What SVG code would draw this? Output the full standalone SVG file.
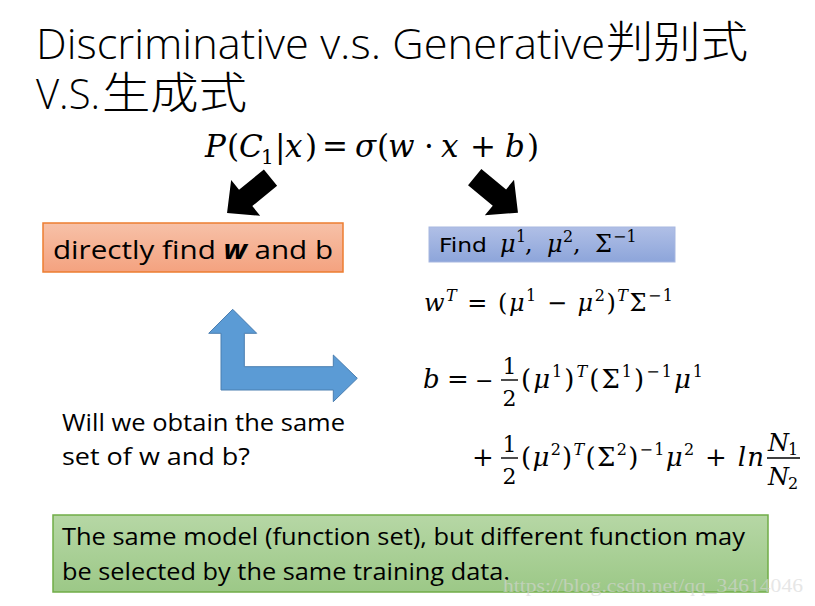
<svg xmlns="http://www.w3.org/2000/svg" width="815" height="606" viewBox="0 0 815 606">
<defs>
<linearGradient id="gOrange" x1="0" y1="0" x2="0" y2="1"><stop offset="0" stop-color="#F7C1A8"/><stop offset="1" stop-color="#F4A27F"/></linearGradient>
<linearGradient id="gBlue" x1="0" y1="0" x2="0" y2="1"><stop offset="0" stop-color="#B0BFE6"/><stop offset="1" stop-color="#8DA5DA"/></linearGradient>
<linearGradient id="gGreen" x1="0" y1="0" x2="0" y2="1"><stop offset="0" stop-color="#B6D7A5"/><stop offset="1" stop-color="#9CC887"/></linearGradient>
<polygon id="blk" points="0,-10.5 32,-10.5 32,-23 56,0 32,23 32,10.5 0,10.5"/>
</defs>
<style>
.sans{font-family:"Open Sans","Noto Sans","Liberation Sans",sans-serif;fill:#000}
.cjk{font-family:"Noto Sans CJK SC","Noto Sans CJK JP",sans-serif;fill:#000}
.m{font-family:"DejaVu Serif","Liberation Serif",serif;fill:#000}
.i{font-style:italic}
.s{font-size:16px}
.bar{stroke:#000;stroke-width:1.4}
</style>
<rect width="815" height="606" fill="#fff"/>
<g id="title">
<text class="sans" x="36" y="59" font-size="42" font-weight="300" textLength="569" lengthAdjust="spacingAndGlyphs">Discriminative v.s. Generative</text>
<text class="cjk" x="606" y="58" font-size="44" font-weight="300" textLength="142" lengthAdjust="spacingAndGlyphs">判别式</text>
<text class="sans" x="36" y="109" font-size="42" font-weight="300" textLength="64" lengthAdjust="spacingAndGlyphs">V.S.</text>
<text class="cjk" x="102" y="109" font-size="44" font-weight="300" textLength="145" lengthAdjust="spacingAndGlyphs">生成式</text>
</g>
<g id="formula">
<text class="m" y="157" font-size="31"><tspan class="i" x="205">P</tspan><tspan x="227">(</tspan><tspan class="i" x="239">C</tspan><tspan x="261" dy="7" font-size="20">1</tspan><tspan x="275" dy="-7">|</tspan><tspan class="i" x="285">x</tspan><tspan x="305">)</tspan><tspan x="322">=</tspan><tspan class="i" x="355">σ</tspan><tspan x="377">(</tspan><tspan class="i" x="388">w</tspan><tspan x="424">·</tspan><tspan class="i" x="441">x</tspan><tspan x="470">+</tspan><tspan class="i" x="505">b</tspan><tspan x="527">)</tspan></text>
</g>
<g id="connectors">
<use href="#blk" transform="translate(270.5,177.7) rotate(140.9)" fill="#000"/>
<use href="#blk" transform="translate(474.7,177.2) rotate(39.4)" fill="#000"/>
<polygon points="232.7,309.3 256.7,333.3 244.3,333.3 244.3,366.7 333.3,366.7 333.3,355 357.3,378.3 333.3,401.7 333.3,390 221,390 221,333.3 208.7,333.3" fill="#5B9BD5" stroke="#4A7EB0" stroke-width="1"/>
</g>
<g id="discriminative">
<rect x="43" y="223" width="300" height="49" fill="url(#gOrange)" stroke="#ED7D31" stroke-width="1.5"/>
<text class="sans" x="53" y="259" font-size="26" textLength="280" lengthAdjust="spacingAndGlyphs">directly find <tspan font-weight="bold" font-style="italic">w</tspan> and b</text>
</g>
<g id="generative">
<rect x="429" y="227" width="246" height="35" fill="url(#gBlue)" stroke="#A7B7E0" stroke-width="1"/>
<text x="439" y="252" font-family="DejaVu Sans,Verdana,sans-serif" font-size="20" textLength="48" lengthAdjust="spacingAndGlyphs">Find</text>
<text class="m" y="252" font-size="24"><tspan class="i" x="500">μ</tspan><tspan class="s" x="516" dy="-10">1</tspan><tspan x="525" dy="10">,</tspan><tspan class="i" x="547">μ</tspan><tspan class="s" x="563" dy="-10">2</tspan><tspan x="573" dy="10">,</tspan><tspan x="595">Σ</tspan><tspan class="s" x="613" dy="-10">−1</tspan></text>
</g>
<g id="wT">
<text class="m" x="424" y="311" font-size="24" textLength="249" lengthAdjust="spacing"><tspan class="i">w</tspan><tspan class="s i" dy="-10">T</tspan><tspan dy="10"> = (</tspan><tspan class="i">μ</tspan><tspan class="s" dy="-10">1</tspan><tspan dy="10"> − </tspan><tspan class="i">μ</tspan><tspan class="s" dy="-10">2</tspan><tspan dy="10">)</tspan><tspan class="s i" dy="-10">T</tspan><tspan dy="10">Σ</tspan><tspan class="s" dy="-10">−1</tspan></text>
</g>
<g id="b-formula">
<text class="m" y="388" font-size="26"><tspan class="i" x="423">b</tspan><tspan x="447">=</tspan><tspan x="475" font-size="22">−</tspan></text>
<text class="m" x="509.5" y="374" font-size="22" text-anchor="middle">1</text>
<line class="bar" x1="501" y1="380" x2="518" y2="380"/>
<text class="m" x="509.5" y="406" font-size="22" text-anchor="middle">2</text>
<text class="m" x="521" y="388" font-size="26" textLength="182" lengthAdjust="spacing">(<tspan class="i">μ</tspan><tspan class="s" dy="-11">1</tspan><tspan dy="11">)</tspan><tspan class="s i" dy="-11">T</tspan><tspan dy="11">(Σ</tspan><tspan class="s" dy="-11">1</tspan><tspan dy="11">)</tspan><tspan class="s" dy="-11">−1</tspan><tspan class="i" dy="11">μ</tspan><tspan class="s" dy="-11">1</tspan></text>
<text class="m" x="472" y="466" font-size="26">+</text>
<text class="m" x="509.5" y="452" font-size="22" text-anchor="middle">1</text>
<line class="bar" x1="501" y1="458" x2="518" y2="458"/>
<text class="m" x="509.5" y="484" font-size="22" text-anchor="middle">2</text>
<text class="m" x="521" y="466" font-size="26" textLength="243" lengthAdjust="spacing">(<tspan class="i">μ</tspan><tspan class="s" dy="-11">2</tspan><tspan dy="11">)</tspan><tspan class="s i" dy="-11">T</tspan><tspan dy="11">(Σ</tspan><tspan class="s" dy="-11">2</tspan><tspan dy="11">)</tspan><tspan class="s" dy="-11">−1</tspan><tspan class="i" dy="11">μ</tspan><tspan class="s" dy="-11">2</tspan><tspan dy="11"> + </tspan><tspan class="i">ln</tspan></text>
<text class="m" y="451" font-size="24"><tspan class="i" x="768">N</tspan><tspan class="s" x="788" dy="4">1</tspan></text>
<line class="bar" x1="767" y1="458" x2="800" y2="458"/>
<text class="m" y="485" font-size="24"><tspan class="i" x="768">N</tspan><tspan class="s" x="788" dy="4">2</tspan></text>
</g>
<g id="question">
<text class="sans" x="62" y="431" font-size="23" textLength="283" lengthAdjust="spacingAndGlyphs">Will we obtain the same</text>
<text class="sans" x="62" y="465" font-size="23" textLength="188" lengthAdjust="spacingAndGlyphs">set of w and b?</text>
</g>
<g id="conclusion">
<rect x="53" y="515" width="715" height="77" fill="url(#gGreen)" stroke="#70AD47" stroke-width="1.5"/>
<text class="sans" x="62" y="545" font-size="23" textLength="683" lengthAdjust="spacingAndGlyphs">The same model (function set), but different function may</text>
<text class="sans" x="62" y="580" font-size="23" textLength="448" lengthAdjust="spacingAndGlyphs">be selected by the same training data.</text>
</g>
<text x="503" y="592" font-family="Liberation Serif,serif" font-size="19" fill="#d6d6d6" opacity="0.6" textLength="300" lengthAdjust="spacingAndGlyphs">https://blog.csdn.net/qq_34614046</text>
</svg>
